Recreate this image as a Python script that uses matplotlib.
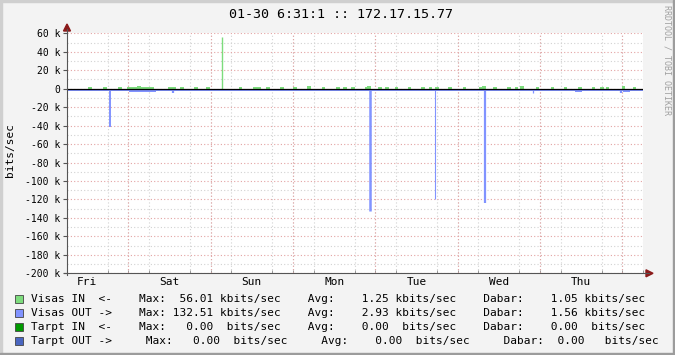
import numpy as np
import matplotlib
matplotlib.use('Agg')
import matplotlib.pyplot as plt
from matplotlib.lines import Line2D
from matplotlib.patches import Rectangle, Polygon

W, H = 675, 355
MONO = 'DejaVu Sans Mono'

TITLE = '01-30 6:31:1 :: 172.17.15.77'
days = ['Fri', 'Sat', 'Sun', 'Mon', 'Tue', 'Wed', 'Thu']
FIRST_MIDNIGHT = 17.88      # valandos nuo grafiko pradzios iki pirmo vidurnakcio
SPAN = 168                  # 7 paros

# Visas OUT - 2 val. vidurkiai, kbit/s (neigiama kryptis)
out_base = [-2.8, -2.8, -2.2, -2.8, -2.8, -2.2, -2.8, -2.8, -2.8, -3.9, -3.9, -3.9,
            -3.9, -2.0, -2.8, -2.2, -2.8, -2.0, -2.8, -2.8, -2.2, -2.8, -2.8, -2.2,
            -2.0, -2.8, -2.2, -2.8, -2.2, -2.0, -2.8, -2.2, -2.8, -2.8, -2.0, -2.8,
            -2.2, -2.8, -2.0, -2.8, -2.8, -2.8, -2.2, -2.8, -2.8, -2.8, -2.2, -2.8,
            -2.8, -2.2, -2.8, -2.0, -2.8, -2.2, -2.8, -2.8, -2.8, -2.2, -2.8, -2.0,
            -2.8, -2.8, -2.2, -2.8, -2.8, -2.2, -2.8, -2.8, -2.8, -2.8, -2.2, -2.8,
            -2.8, -2.8, -3.2, -2.8, -2.8, -2.8, -2.8, -2.8, -2.8, -3.2, -2.8, -2.8]

# Visas OUT smailes
out_spike_hours = [12.5, 30.9, 45.1, 88.2, 107.3, 121.9, 135.9, 161.6]
out_spike_vals = [-41, -4.5, -2.5, -132, -119, -124, -5, -4.5]

# Visas IN - pavieniai pakilimai, kbit/s
in_hours = [6.7, 11.1, 15.5, 18, 19, 20, 21, 22, 23, 24, 25, 30.0, 31.2, 33.5, 37.6,
            41.1, 50.5, 54.8, 56.0, 58.6, 62.7, 66.5, 70.6, 74.7, 79.0, 81.1, 83.4,
            87.5, 88.1, 91.3, 93.3, 96.0, 99.8, 103.8, 105.9, 107.9, 111.7, 115.8,
            120.5, 121.6, 124.8, 128.9, 131.0, 132.7, 137.1, 141.5, 145.3, 149.6,
            153.4, 156.0, 157.5, 162.2, 165.4]
in_vals = [2.3, 2.0, 2.2, 1.9, 1.9, 2.2, 2.4, 1.9, 1.9, 1.9, 1.9, 2.0, 2.2, 2.0, 2.3,
           2.0, 2.0, 2.3, 2.0, 2.2, 2.0, 2.0, 3.4, 2.0, 2.3, 2.0, 2.0,
           2.0, 3.4, 2.0, 2.2, 2.0, 2.0, 2.0, 2.2, 2.0, 2.3, 2.0,
           2.3, 3.0, 2.0, 2.0, 2.2, 3.0, 2.0, 2.2, 2.0, 2.0,
           2.0, 2.0, 2.2, 2.5, 2.0]
in_spike_hours = [45.1]
in_spike_vals = [56]

# legenda
leg_names = ['Visas IN  <-', 'Visas OUT ->', 'Tarpt IN  <-', 'Tarpt OUT ->']
leg_colors = ['#7ddc7d', '#8193ff', '#009a00', '#4a66c0']
leg_max = [56.01, 132.51, 0.00, 0.00]
leg_avg = [1.25, 2.93, 0.00, 0.00]
leg_cur = [1.05, 1.56, 0.00, 0.00]
leg_unit = ['kbits/sec', 'kbits/sec', ' bits/sec', ' bits/sec']

IN_COL = leg_colors[0]
OUT_COL = leg_colors[1]


def fx(x):
    return x / W


def fy(y):
    return 1 - y / H


fig = plt.figure(figsize=(W / 100, H / 100), dpi=100, facecolor='#f3f3f3')

x0, x1, ytop, ybot = 67, 643.3, 33.3, 273.3
ax = fig.add_axes([fx(x0), fy(ybot), (x1 - x0) / W, (ybot - ytop) / H])
ax.set_facecolor('white')
ax.set_xlim(0, SPAN)
ax.set_ylim(-200, 60)

# tinklelis
red = '#e3a3a3'
grey = '#d2d2d2'
dots = (0, (1, 2))
ax.set_yticks(np.arange(-200, 61, 20))
ax.set_yticks(np.arange(-200, 61, 10), minor=True)
ax.set_yticklabels([('%d k' % v if v != 0 else '0') for v in range(-200, 61, 20)],
                   family=MONO, fontsize=7)
noons = FIRST_MIDNIGHT - 12 + 24 * np.arange(len(days))
ax.set_xticks(noons, labels=days, family=MONO, fontsize=8)
ax.set_xticks(np.arange(FIRST_MIDNIGHT - 12, SPAN, 6), minor=True)
ax.grid(which='minor', color=grey, ls=dots, lw=0.8)
ax.grid(which='major', axis='y', color=red, ls=dots, lw=0.8)
for m in np.arange(FIRST_MIDNIGHT, SPAN, 24):
    ax.axvline(m, color=red, ls=dots, lw=0.8, zorder=0.6)
ax.set_axisbelow(True)
ax.tick_params(axis='y', which='major', length=3, direction='out', color='#555555', pad=2)
ax.tick_params(axis='y', which='minor', length=0)
ax.tick_params(axis='x', which='major', length=0, pad=3)
ax.tick_params(axis='x', which='minor', length=2, direction='in', color='#888888')
for s in ax.spines.values():
    s.set_visible(False)

# duomenys
edges = np.linspace(0, SPAN, len(out_base) + 1)
ax.stairs(out_base, edges, baseline=0, fill=True, color=OUT_COL, lw=0, zorder=2)
ax.bar(in_hours, in_vals, width=1.0, color=IN_COL, lw=0, zorder=2)
ax.vlines(out_spike_hours, 0, out_spike_vals, colors=OUT_COL,
          lw=[1.4, 1.6, 1.2, 1.8, 0.8, 1.6, 0.9, 1.6], zorder=3)
ax.vlines(in_spike_hours, 0, in_spike_vals, colors=IN_COL, lw=1.0, zorder=3)
ax.axhline(0, color='black', lw=0.9, zorder=4)

# asys su rodyklemis
axis_col = '#555555'
fig.add_artist(Line2D([fx(x0), fx(x0)], [fy(ybot + 2), fy(29)], color=axis_col, lw=0.8))
fig.add_artist(Line2D([fx(x0 - 3), fx(649)], [fy(ybot), fy(ybot)], color=axis_col, lw=0.8))
arrow_col = '#8b1a1a'
fig.add_artist(Polygon([[fx(x0 - 3.5), fy(31)], [fx(x0 + 3.5), fy(31)], [fx(x0), fy(24)]],
                       closed=True, color=arrow_col, transform=fig.transFigure))
fig.add_artist(Polygon([[fx(646), fy(ybot - 3.5)], [fx(646), fy(ybot + 3.5)], [fx(653), fy(ybot)]],
                       closed=True, color=arrow_col, transform=fig.transFigure))

# tekstai
fig.text(fx(341), fy(14), TITLE, family=MONO, fontsize=9.6, ha='center', va='center')
fig.text(fx(10), fy(150), 'bits/sec', family=MONO, fontsize=8, rotation=90,
         ha='center', va='center')
fig.text(fx(667), fy(5), 'RRDTOOL / TOBI OETIKER', family=MONO, fontsize=6,
         rotation=270, ha='center', va='top', color='#a0a0a0')

rows_y = [298.5, 312.5, 327, 341]
for i, name in enumerate(leg_names):
    if i < 3:
        line = (name + '    Max: %6.2f %s    Avg: %7.2f %s    Dabar: %7.2f %s'
                % (leg_max[i], leg_unit[i], leg_avg[i], leg_unit[i], leg_cur[i], leg_unit[i]))
    else:
        line = (name + '     Max:   %4.2f  %s     Avg:    %4.2f  %s     Dabar:  %4.2f   %s'
                % (leg_max[i], leg_unit[i].strip(), leg_avg[i], leg_unit[i].strip(),
                   leg_cur[i], leg_unit[i].strip()))
    fig.text(fx(31), fy(rows_y[i]), line, family=MONO, fontsize=8, ha='left', va='center')
    fig.add_artist(Rectangle((fx(15), fy(rows_y[i] + 4)), 7.5 / W, 8 / H,
                             facecolor=leg_colors[i], edgecolor='#444444', lw=0.6,
                             transform=fig.transFigure))

# remelis
fig.add_artist(Rectangle((0, 1 - 2 / H), 1, 2 / H, color='#cfcfcf', transform=fig.transFigure))
fig.add_artist(Rectangle((0, 0), 2 / W, 1, color='#cfcfcf', transform=fig.transFigure))
fig.add_artist(Rectangle((0, 0), 1, 2 / H, color='#9c9c9c', transform=fig.transFigure))
fig.add_artist(Rectangle((1 - 2 / W, 0), 2 / W, 1, color='#9c9c9c', transform=fig.transFigure))

fig.savefig('out.png', dpi=100, facecolor=fig.get_facecolor())
